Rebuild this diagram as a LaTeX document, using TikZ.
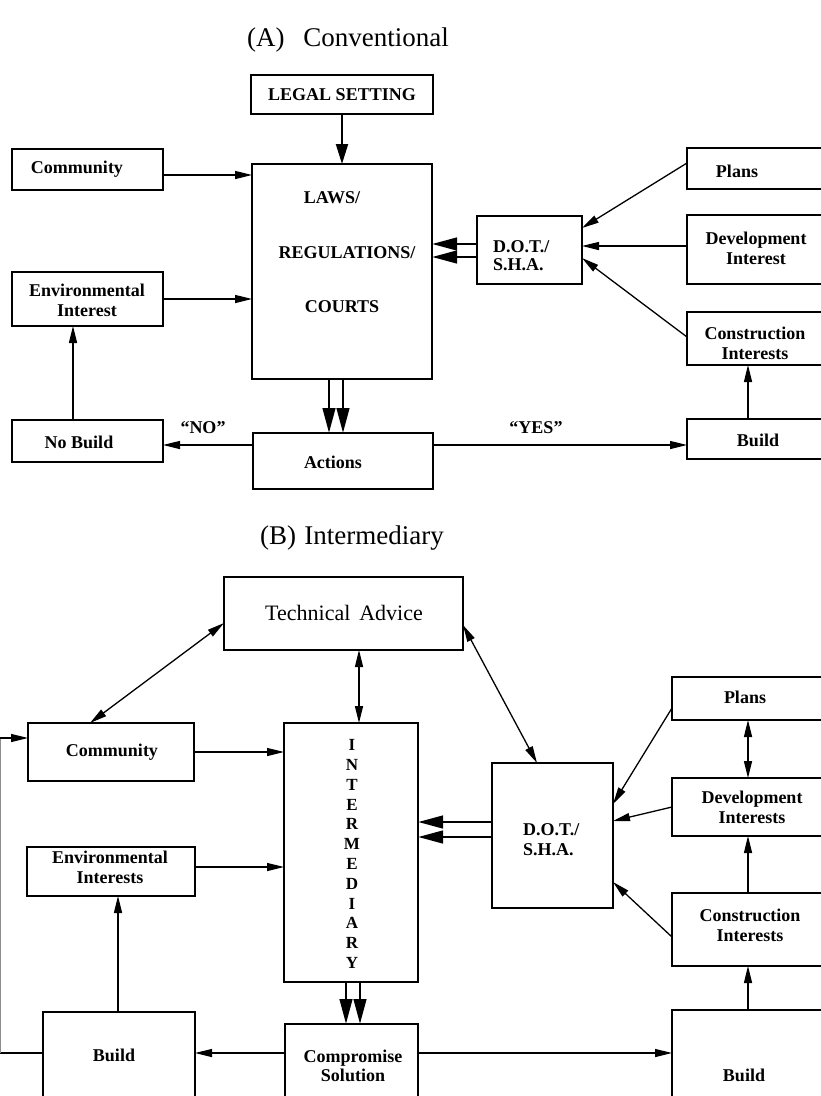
\documentclass[tikz,border=0pt]{standalone}
\usepackage{fontspec}
\setmainfont{Liberation Serif}
\usetikzlibrary{arrows.meta}
\begin{document}
\begin{tikzpicture}[x=1pt,y=-1pt,
  box/.style={draw, line width=1.3pt, inner sep=0pt, outer sep=0pt},
  thickbox/.style={draw, line width=2.8pt, inner sep=0pt, outer sep=0pt},
  lbl/.style={font=\fontsize{18}{20}\selectfont\bfseries, inner sep=0pt, align=center},
  ttl/.style={font=\fontsize{27}{30}\selectfont, inner sep=0pt},
  conn/.style={line width=1.3pt},
  arr/.style={line width=1.3pt, -{Triangle[length=17pt,width=8pt]}},
  darr/.style={line width=1.3pt, {Triangle[length=17pt,width=8pt]}-{Triangle[length=17pt,width=8pt]}},
  midarr/.style={line width=2pt, -{Triangle[length=20pt,width=12pt]}},
  bigarr/.style={line width=2.8pt, -{Triangle[length=25pt,width=12.5pt]}},
  faint/.style={line width=1.3pt, draw=black!45}]
\useasboundingbox (0,0) rectangle (821,1096);
\clip (0,0) rectangle (821,1096);

% ---------- level / column helpers ----------
\coordinate (y175) at (0,175);
\coordinate (y445) at (0,445);
\coordinate (y244) at (0,244);
\coordinate (y257) at (0,257);
\coordinate (y163) at (0,163);
\coordinate (y228) at (0,228);
\coordinate (y246) at (0,246);
\coordinate (y337) at (0,337);
\coordinate (y258) at (0,258);
\coordinate (x73) at (73,0);
\coordinate (x329) at (329,0);
\coordinate (x343) at (343,0);
\coordinate (x748) at (748,0);
\coordinate (y623) at (0,623);
\coordinate (x90) at (90,0);
\coordinate (x359) at (359,0);
\coordinate (y625) at (0,625);
\coordinate (x537) at (537,0);
\coordinate (y867) at (0,867);
\coordinate (y822) at (0,822);
\coordinate (y837) at (0,837);
\coordinate (y708) at (0,708);
\coordinate (y804) at (0,804);
\coordinate (y807) at (0,807);
\coordinate (y821) at (0,821);
\coordinate (y937) at (0,937);
\coordinate (y882) at (0,882);
\coordinate (x346) at (346,0);
\coordinate (x360) at (360,0);
\coordinate (y1053) at (0,1053);
\coordinate (x118) at (118,0);
\coordinate (y738) at (0,738);
\coordinate (cornerLo) at (0.2,1053);
\coordinate (cornerHi) at (0.2,738);

% ---------- (A) Conventional ----------
\node[ttl] (titleA) at (348,40) {(A)\hspace{0.7em}Conventional};

\node[thickbox, minimum width=182pt, minimum height=39pt] (legal) at (342,94.5) {};
\node[thickbox, minimum width=180pt, minimum height=215pt] (laws) at (342,271.5) {};
\node[box, minimum width=151pt, minimum height=41pt] (comA) at (87.5,169.5) {};
\node[box, minimum width=151pt, minimum height=54pt] (envA) at (87.5,299) {};
\node[box, minimum width=151pt, minimum height=42pt] (nobuild) at (87.5,441) {};
\node[box, minimum width=180pt, minimum height=56pt] (actions) at (343,461) {};
\node[box, minimum width=105pt, minimum height=68pt] (dotA) at (529.5,250) {};
\node[box, minimum width=138pt, minimum height=41pt] (plansA) at (756,168.5) {};
\node[box, minimum width=138pt, minimum height=69pt] (devA) at (756,249.5) {};
\node[box, minimum width=138pt, minimum height=53pt] (conA) at (756,338.5) {};
\node[box, minimum width=138pt, minimum height=40pt] (buildA) at (756,439) {};

\node[lbl] (tLegal) at (342,95) {LEGAL SETTING};
\node[lbl] (tLaws) at (332,198) {LAWS/};
\node[lbl] (tReg) at (347,253) {REGULATIONS/};
\node[lbl] (tCourts) at (342,307) {COURTS};
\node[lbl] (tComA) at (77,169) {Community};
\node[lbl] (tEnvA) at (87,300) {Environmental\\Interest};
\node[lbl] (tNB) at (79,442) {No Build};
\node[lbl] (tAct) at (333,462) {Actions};
\node[lbl, align=left, anchor=west, font=\fontsize{18}{18}\selectfont\bfseries] (tDotA) at (493,256) {D.O.T./\\S.H.A.};
\node[lbl] (tPlansA) at (737,171) {Plans};
\node[lbl] (tDevA) at (756,248) {Development\\Interest};
\node[lbl] (tConA) at (755,343) {Construction\\Interests};
\node[lbl] (tBuildA) at (758,440) {Build};
\node[lbl] (tNO) at (203,428) {“NO”};
\node[lbl] (tYES) at (536,428) {“YES”};

\draw[midarr] (legal.south) -- (laws.north);
\draw[arr] (comA.east |- y175) -- (laws.west |- y175);
\draw[arr] (envA.east) -- (laws.west |- envA.east);
\draw[arr] (nobuild.north -| x73) -- (envA.south -| x73);
\draw[arr] (actions.west |- y445) -- (nobuild.east |- y445);
\draw[arr] (actions.east |- y445) -- (buildA.west |- y445);
\draw[bigarr] (laws.south -| x329) -- (actions.north -| x329);
\draw[bigarr] (laws.south -| x343) -- (actions.north -| x343);
\draw[bigarr] (dotA.west |- y244) -- (laws.east |- y244);
\draw[bigarr] (dotA.west |- y257) -- (laws.east |- y257);
\draw[arr] (plansA.west |- y163) -- (dotA.east |- y228);
\draw[arr] (devA.west |- y246) -- (dotA.east |- y246);
\draw[arr] (conA.west |- y337) -- (dotA.east |- y258);
\draw[arr] (buildA.north -| x748) -- (conA.south -| x748);

% ---------- (B) Intermediary ----------
\node[ttl] (titleB) at (352,538) {(B)\hspace{0.3em}Intermediary};

\node[box, minimum width=239pt, minimum height=73pt] (tech) at (343.5,613.5) {};
\node[box, minimum width=166pt, minimum height=58pt] (comB) at (111,752) {};
\node[thickbox, minimum width=134pt, minimum height=259pt] (inter) at (351,852.5) {};
\node[box, minimum width=168pt, minimum height=49pt] (envB) at (111,871.5) {};
\node[box, minimum width=121pt, minimum height=145pt] (dotB) at (552.5,835.5) {};
\node[box, minimum width=153pt, minimum height=43pt] (plansB) at (748.5,698.5) {};
\node[box, minimum width=153pt, minimum height=58pt] (devB) at (748.5,807) {};
\node[box, minimum width=153pt, minimum height=73pt] (conB) at (748.5,929.5) {};
\node[box, minimum width=153pt, minimum height=90pt] (buildBR) at (748.5,1055) {};
\node[box, minimum width=152pt, minimum height=88pt] (buildBL) at (119,1056) {};
\node[box, minimum width=133pt, minimum height=76pt] (comp) at (351.5,1062) {};

\node[font=\fontsize{22}{24}\selectfont, inner sep=0pt] (tTech) at (344,613) {Technical\hspace{0.4em}Advice};
\node[lbl] (tComB) at (112,752) {Community};
\node[lbl, font=\fontsize{17}{19.8}\selectfont\bfseries] (tInter) at (352,854) {I\\N\\T\\E\\R\\M\\E\\D\\I\\A\\R\\Y};
\node[lbl] (tEnvB) at (110,867) {Environmental\\Interests};
\node[lbl, align=left, anchor=west, font=\fontsize{18}{20}\selectfont\bfseries] (tDotB) at (523,840) {D.O.T./\\S.H.A.};
\node[lbl] (tPlansB) at (745,697) {Plans};
\node[lbl] (tDevB) at (752,807) {Development\\Interests};
\node[lbl] (tConB) at (750,925) {Construction\\Interests};
\node[lbl] (tBuildBR) at (744,1075) {Build};
\node[lbl] (tBuildBL) at (114,1055) {Build};
\node[lbl, font=\fontsize{18}{19}\selectfont\bfseries] (tComp) at (353,1066) {Compromise\\Solution};

\draw[darr] (tech.west |- y623) -- (comB.north -| x90);
\draw[darr] (tech.south -| x359) -- (inter.north -| x359);
\draw[darr] (tech.east |- y625) -- (dotB.north -| x537);
\draw[arr] (comB.east) -- (inter.west |- comB.east);
\draw[arr] (envB.east |- y867) -- (inter.west |- y867);
\draw[bigarr] (dotB.west |- y822) -- (inter.east |- y822);
\draw[bigarr] (dotB.west |- y837) -- (inter.east |- y837);
\draw[arr] (plansB.west |- y708) -- (dotB.east |- y804);
\draw[arr] (devB.west |- y807) -- (dotB.east |- y821);
\draw[arr] (conB.west |- y937) -- (dotB.east |- y882);
\draw[darr] (plansB.south -| x748) -- (devB.north -| x748);
\draw[arr] (conB.north -| x748) -- (devB.south -| x748);
\draw[arr] (buildBR.north -| x748) -- (conB.south -| x748);
\draw[bigarr] (inter.south -| x346) -- (comp.north -| x346);
\draw[bigarr] (inter.south -| x360) -- (comp.north -| x360);
\draw[arr] (comp.west |- y1053) -- (buildBL.east |- y1053);
\draw[arr] (comp.east |- y1053) -- (buildBR.west |- y1053);
\draw[arr] (buildBL.north -| x118) -- (envB.south -| x118);
\draw[conn] (buildBL.west |- y1053) -- (cornerLo);
\draw[faint] (cornerLo) -- (cornerHi);
\draw[arr] (cornerHi) -- (comB.west |- y738);
\end{tikzpicture}
\end{document}
